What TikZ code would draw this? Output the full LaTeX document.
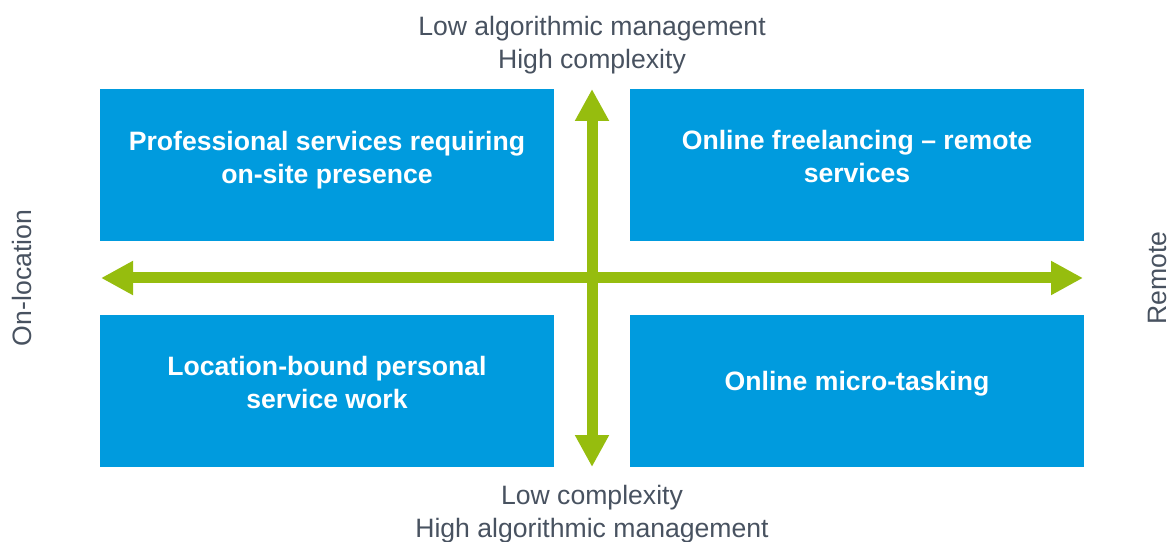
\documentclass[tikz,border=0pt]{standalone}
\usepackage{fontspec}
\setmainfont{Liberation Sans}
\usetikzlibrary{arrows.meta}
\definecolor{boxblue}{RGB}{0,155,222}
\definecolor{axisgreen}{RGB}{150,189,14}
\definecolor{labelgray}{RGB}{72,82,96}
\tikzset{
  quad/.style={fill=boxblue, draw=none, minimum width=454pt, minimum height=152pt, inner sep=0pt},
  quadtext/.style={text=white, font=\fontsize{26.6pt}{33pt}\selectfont\bfseries, align=center, inner sep=0pt},
  axislabel/.style={text=labelgray, font=\fontsize{26.6pt}{33.5pt}\selectfont, align=center, inner sep=0pt},
  axisarrow/.style={draw=axisgreen, line width=11pt, {Triangle[width=32pt,length=32pt]}-{Triangle[width=32pt,length=32pt]}}
}
\begin{document}
\begin{tikzpicture}[x=1pt,y=1pt]
\useasboundingbox (0,0) rectangle (1174,541);
\node[quad] (tl) at (327,376) {};
\node[quad] (tr) at (857,376) {};
\node[quad] (bl) at (327,150) {};
\node[quad] (br) at (857,150) {};
\node[quadtext] (tltext) at (327,381) {Professional services requiring\\on-site presence};
\node[quadtext] (trtext) at (857,385) {Online freelancing -- remote\\services};
\node[quadtext] (bltext) at (327,159) {Location-bound personal\\service work};
\node[quadtext] (brtext) at (857,157) {Online micro-tasking};
\coordinate (left) at (101,263);
\coordinate (right) at (1083,263);
\coordinate (top) at (592,452);
\coordinate (bottom) at (592,74);
\draw[axisarrow] (left) -- (right);
\draw[axisarrow] (bottom) -- (top);
\node[axislabel] (toplabel) at (592,496) {Low algorithmic management\\High complexity};
\node[axislabel] (bottomlabel) at (592,27) {Low complexity\\High algorithmic management};
\node[axislabel, rotate=90] (leftlabel) at (22,263) {On-location};
\node[axislabel, rotate=90] (rightlabel) at (1157,263) {Remote};
\end{tikzpicture}
\end{document}
